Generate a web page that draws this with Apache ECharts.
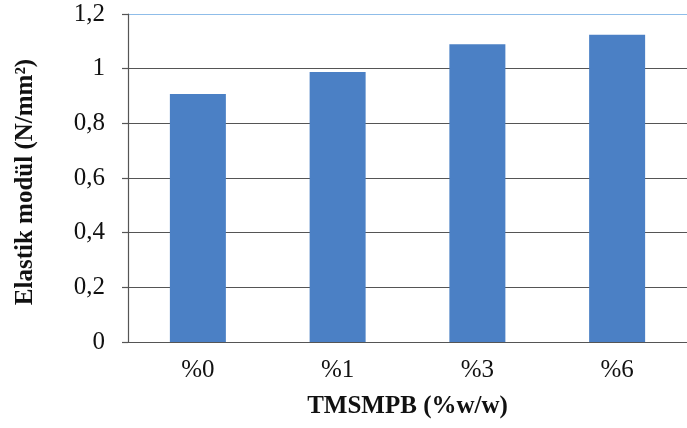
<!DOCTYPE html>
<html>
<head>
<meta charset="utf-8">
<script src="https://cdn.jsdelivr.net/npm/echarts@6/dist/echarts.min.js"></script>
<style>
  html, body { margin: 0; padding: 0; background: #ffffff; }
  #chart { width: 687px; height: 428px; }
</style>
</head>
<body>
<div id="chart"></div>
<script>
// Elastic modulus per TMSMPB concentration
const categories = ['%0', '%1', '%3', '%6'];
const modulus = [0.907, 0.988, 1.089, 1.124];
const yTicks = [0, 0.2, 0.4, 0.6, 0.8, 1.0, 1.2];

const serif = '"Liberation Serif", "DejaVu Serif", serif';
const chart = echarts.init(document.getElementById('chart'), null, { renderer: 'canvas' });

chart.setOption({
  animation: false,
  backgroundColor: '#ffffff',
  grid: { left: 128, top: 14, width: 567, height: 328 },
  xAxis: {
    type: 'category',
    data: categories,
    name: 'TMSMPB (%w/w)',
    nameLocation: 'middle',
    nameGap: 52,
    nameTextStyle: { fontFamily: serif, fontWeight: 'bold', fontSize: 25, color: '#111' },
    axisLine: { show: true, lineStyle: { color: '#555', width: 1.2 } },
    axisTick: { show: false },
    axisLabel: { fontFamily: serif, fontSize: 25, color: '#111', margin: 16 },
    splitLine: { show: false }
  },
  yAxis: {
    type: 'value',
    min: yTicks[0],
    max: yTicks[yTicks.length - 1],
    interval: 0.2,
    name: 'Elastik modül (N/mm²)',
    nameLocation: 'middle',
    nameGap: 90,
    nameTextStyle: {
      fontFamily: serif, fontWeight: 'bold', fontSize: 25, color: '#111',
      padding: [0, 8, 0, 0]
    },
    axisLine: { show: true, lineStyle: { color: '#555', width: 1.2 } },
    axisTick: { show: true, length: 6, inside: false, lineStyle: { color: '#555', width: 1.2 } },
    axisLabel: {
      fontFamily: serif, fontSize: 25, color: '#111', margin: 23,
      formatter: v => String(Math.round(v * 10) / 10).replace('.', ',')
    },
    splitLine: {
      show: true,
      showMinLine: true,
      lineStyle: {
        color: ['#555', '#555', '#555', '#555', '#555', '#555', '#8fbde9'],
        width: 1.2
      }
    }
  },
  series: [{
    type: 'bar',
    data: modulus,
    barWidth: 56,
    itemStyle: { color: '#4b80c5' }
  }]
});
</script>
</body>
</html>
